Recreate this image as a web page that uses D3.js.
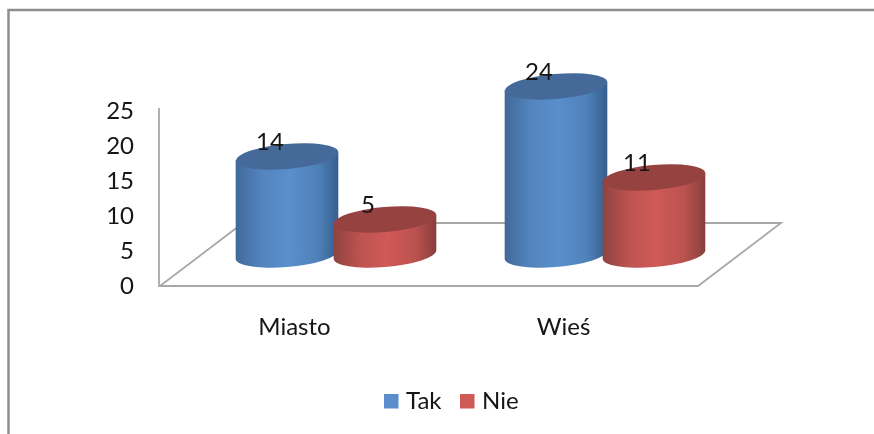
<!DOCTYPE html>
<html>
<head>
<meta charset="utf-8">
<script src="https://cdn.jsdelivr.net/npm/d3@7"></script>
<style>
  body { margin: 0; background: #fff; }
  text { font-family: Lato, sans-serif; fill: #141414; }
</style>
</head>
<body>
<div class="chart"></div>
<script>
const categories = ['Miasto', 'Wieś'];
const seriesNames = ['Tak', 'Nie'];
const tak = [14, 24];
const nie = [5, 11];
const yTicks = [0, 5, 10, 15, 20, 25];

const width = 874, height = 434;
const floor = {left: 160, right: 698, bottom: 286, dx: 83, dy: 63};
const cyl = {rx: 51.5, ry: 12.5, tilt: -5};
const gridColor = '#a8a8a8';
const fontSize = 24;
const colors = {
    Tak: {left: '#41699a', right: '#355f8e', mid: '#5a8fcc', top: '#446a99'},
    Nie: {left: '#8e4340', right: '#873f3c', mid: '#d05a57', top: '#95433f'}
};

const svg = d3.select('.chart')
    .append('svg')
    .attr('width', width)
    .attr('height', height)
    .style('display', 'block');

const defs = svg.append('defs');
seriesNames.forEach(name => {
    const c = colors[name];
    const grad = defs.append('linearGradient').attr('id', 'grad' + name);
    [[0, c.left], [0.25, d3.interpolateRgb(c.left, c.mid)(0.7)],
     [0.52, c.mid], [0.8, d3.interpolateRgb(c.right, c.mid)(0.7)],
     [1, c.right]].forEach(s => {
        grad.append('stop').attr('offset', s[0]).attr('stop-color', s[1]);
    });
});
defs.append('filter').attr('id', 'soft')
    .append('feGaussianBlur').attr('stdDeviation', 0.45);

const chart = svg.append('g').attr('filter', 'url(#soft)');

// outer frame, only top and left show
chart.append('path')
    .attr('d', `M8.5,${height} V10 H${width}`)
    .attr('fill', 'none')
    .attr('stroke', '#8e8e8e')
    .attr('stroke-width', 2.5);

const xScale = d3.scaleBand()
    .domain(categories)
    .range([floor.left, floor.right]);

const seriesScale = d3.scalePoint()
    .domain(seriesNames)
    .range([-49, 49]);

const yScale = d3.scaleLinear()
    .domain([0, 25])
    .range([floor.bottom, floor.bottom - 175]);

// floor of the 3d box
const back = floor.bottom - floor.dy;
chart.append('path')
    .attr('d', `M${floor.left - 1},${yScale(25) - 3} V${floor.bottom}
        H${floor.right} L${floor.right + floor.dx},${back}
        H${floor.left + floor.dx} L${floor.left},${floor.bottom}`)
    .attr('fill', 'none')
    .attr('stroke', gridColor)
    .attr('stroke-width', 1.8);

const yAxis = d3.axisLeft(yScale).tickValues(yTicks).tickSize(0).tickPadding(25);
const yG = chart.append('g')
    .attr('transform', `translate(${floor.left - 1},0)`)
    .call(yAxis);
yG.select('.domain').remove();
yG.selectAll('text').attr('font-size', fontSize).style('font-family', 'Lato, sans-serif').attr('fill', '#141414');

const xAxis = d3.axisBottom(xScale).tickSize(0).tickPadding(32);
const xG = chart.append('g')
    .attr('transform', `translate(0,${floor.bottom})`)
    .call(xAxis);
xG.select('.domain').remove();
xG.selectAll('text').attr('font-size', fontSize).style('font-family', 'Lato, sans-serif').attr('fill', '#141414');

// bars stand in the middle of the floor depth
const depthX = floor.dx / 2, depthY = floor.dy / 2;
const rad = cyl.tilt * Math.PI / 180;
const t = Math.atan2(-cyl.ry * Math.sin(rad), cyl.rx * Math.cos(rad));
const edgeX = cyl.rx * Math.cos(t) * Math.cos(rad) - cyl.ry * Math.sin(t) * Math.sin(rad);
const edgeY = cyl.rx * Math.cos(t) * Math.sin(rad) + cyl.ry * Math.sin(t) * Math.cos(rad);

function bodyPath(h) {
    return `M${-edgeX},${-h - edgeY} L${-edgeX},${-edgeY}
        A${cyl.rx},${cyl.ry} ${cyl.tilt} 0 0 ${edgeX},${edgeY}
        L${edgeX},${-h + edgeY} Z`;
}

const bars = [];
categories.forEach((c, i) => {
    bars.push({cat: c, name: 'Tak', value: tak[i]});
    bars.push({cat: c, name: 'Nie', value: nie[i]});
});

const cols = chart.selectAll('.bar')
    .data(bars)
    .enter()
    .append('g')
    .attr('class', 'bar')
    .attr('transform', d => `translate(${xScale(d.cat) + xScale.bandwidth() / 2 + depthX + seriesScale(d.name)},${floor.bottom - depthY})`);

cols.append('path')
    .attr('d', d => bodyPath(yScale(0) - yScale(d.value)))
    .attr('fill', d => `url(#grad${d.name})`);

cols.append('ellipse')
    .attr('cy', d => yScale(d.value) - yScale(0))
    .attr('rx', cyl.rx)
    .attr('ry', cyl.ry)
    .attr('transform', d => `rotate(${cyl.tilt} 0 ${yScale(d.value) - yScale(0)})`)
    .attr('fill', d => colors[d.name].top);

cols.append('text')
    .attr('x', -17)
    .attr('y', d => yScale(d.value) - yScale(0) - 7)
    .attr('text-anchor', 'middle')
    .attr('font-size', fontSize)
    .text(d => d.value);

// legend
const legendX = d3.scaleOrdinal().domain(seriesNames).range([384, 460]);
const legend = chart.selectAll('.legend')
    .data(seriesNames)
    .enter()
    .append('g')
    .attr('class', 'legend')
    .attr('transform', d => `translate(${legendX(d)},394)`);

legend.append('rect')
    .attr('width', 14.5)
    .attr('height', 14.5)
    .attr('fill', d => colors[d].mid);

legend.append('text')
    .attr('x', 22)
    .attr('y', 15)
    .attr('font-size', fontSize)
    .text(d => d);
</script>
</body>
</html>
